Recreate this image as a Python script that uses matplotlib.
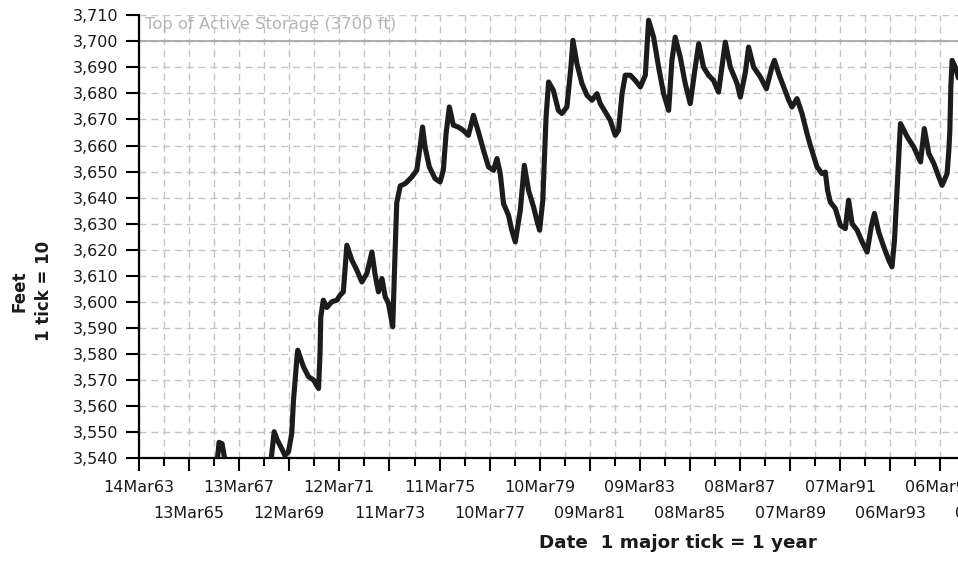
import numpy as np
import matplotlib
matplotlib.use("Agg")
import matplotlib.pyplot as plt
import matplotlib.dates as mdates
from matplotlib.ticker import FuncFormatter, FixedLocator
from datetime import datetime, timedelta

# Reservoir elevation (ft) against decimal year
years = [
    1963.20, 1964.50, 1965.50, 1966.10, 1966.32, 1966.39, 1966.51, 1966.63,
    1966.83, 1967.30, 1967.90, 1968.43, 1968.59, 1968.71, 1968.87, 1969.02,
    1969.16, 1969.29, 1969.36, 1969.49, 1969.53, 1969.76, 1969.96, 1970.16,
    1970.36, 1970.42, 1970.45, 1970.55, 1970.69, 1970.89, 1971.09, 1971.22,
    1971.35, 1971.49, 1971.69, 1971.89, 1972.09, 1972.29, 1972.49, 1972.62,
    1972.75, 1972.89, 1973.02, 1973.15, 1973.32, 1973.42, 1973.48, 1973.62,
    1973.82, 1974.08, 1974.28, 1974.41, 1974.51, 1974.61, 1974.78, 1975.01,
    1975.21, 1975.34, 1975.45, 1975.58, 1975.74, 1975.94, 1976.14, 1976.34,
    1976.54, 1976.74, 1976.94, 1977.14, 1977.34, 1977.48, 1977.61, 1977.74,
    1977.94, 1978.07, 1978.21, 1978.41, 1978.57, 1978.74, 1978.94, 1979.07,
    1979.18, 1979.31, 1979.36, 1979.44, 1979.54, 1979.73, 1979.93, 1980.07,
    1980.27, 1980.43, 1980.51, 1980.67, 1980.87, 1981.07, 1981.27, 1981.47,
    1981.60, 1981.80, 1982.00, 1982.20, 1982.33, 1982.47, 1982.60, 1982.80,
    1983.00, 1983.20, 1983.40, 1983.53, 1983.73, 1983.93, 1984.13, 1984.33,
    1984.46, 1984.59, 1984.79, 1984.99, 1985.19, 1985.39, 1985.53, 1985.72,
    1985.92, 1986.12, 1986.32, 1986.50, 1986.59, 1986.79, 1987.06, 1987.19,
    1987.39, 1987.52, 1987.72, 1987.99, 1988.23, 1988.45, 1988.55, 1988.72,
    1988.92, 1989.12, 1989.25, 1989.45, 1989.65, 1989.85, 1989.98, 1990.25,
    1990.45, 1990.58, 1990.67, 1990.78, 1990.98, 1991.18, 1991.38, 1991.51,
    1991.65, 1991.85, 1992.05, 1992.25, 1992.41, 1992.54, 1992.71, 1992.91,
    1993.11, 1993.24, 1993.34, 1993.44, 1993.55, 1993.58, 1993.85, 1994.11,
    1994.38, 1994.53, 1994.71, 1994.91, 1995.11, 1995.24, 1995.44, 1995.51,
    1995.55, 1995.59, 1995.64, 1995.77, 1995.89,
]
elevation = [
    3420.0, 3490.0, 3520.0, 3530.0, 3539.0, 3546.0, 3545.5, 3539.0,
    3530.0, 3525.0, 3522.0, 3536.0, 3550.1, 3547.0, 3544.0, 3541.0,
    3542.4, 3549.4, 3562.2, 3577.6, 3581.4, 3575.0, 3571.2, 3570.0,
    3566.7, 3580.3, 3594.2, 3600.6, 3597.8, 3600.0, 3600.6, 3602.5,
    3603.8, 3621.7, 3616.0, 3612.1, 3607.6, 3610.9, 3619.1, 3610.2,
    3603.8, 3608.9, 3601.9, 3599.3, 3590.4, 3621.0, 3638.0, 3644.5,
    3645.4, 3647.9, 3650.5, 3659.4, 3667.1, 3659.4, 3651.8, 3647.3,
    3646.0, 3650.5, 3664.6, 3674.8, 3667.8, 3667.1, 3665.8, 3663.9,
    3671.6, 3665.2, 3658.2, 3651.8, 3650.5, 3655.0, 3649.2, 3637.7,
    3633.2, 3627.5, 3623.0, 3635.1, 3652.4, 3642.8, 3636.4, 3631.3,
    3627.5, 3639.0, 3651.8, 3671.0, 3684.4, 3681.2, 3673.5, 3672.3,
    3674.8, 3690.1, 3700.4, 3691.4, 3683.8, 3679.3, 3677.4, 3679.9,
    3676.1, 3672.9, 3669.7, 3663.9, 3665.8, 3679.9, 3687.0, 3687.0,
    3685.0, 3682.5, 3687.0, 3708.1, 3701.6, 3690.1, 3679.9, 3673.5,
    3692.7, 3701.6, 3694.0, 3683.8, 3676.1, 3690.1, 3699.1, 3690.1,
    3687.0, 3685.0, 3680.5, 3693.4, 3699.7, 3690.1, 3683.8, 3678.6,
    3688.0, 3697.8, 3690.1, 3686.3, 3681.8, 3690.1, 3692.7, 3687.6,
    3682.5, 3677.4, 3674.8, 3678.0, 3672.3, 3664.6, 3660.1, 3651.8,
    3649.2, 3649.8, 3642.8, 3638.3, 3635.8, 3629.4, 3628.1, 3639.0,
    3630.0, 3627.5, 3623.0, 3619.1, 3628.7, 3633.9, 3626.8, 3621.1,
    3616.0, 3613.4, 3623.6, 3642.8, 3663.3, 3668.4, 3663.3, 3659.4,
    3653.7, 3666.5, 3656.9, 3653.1, 3647.9, 3644.7, 3649.2, 3658.2,
    3665.8, 3682.5, 3692.7, 3690.1, 3686.0,
]

active_storage_top = 3700
y_ticks = list(range(3540, 3711, 10))
tick_origin = datetime(1963, 3, 14)
n_years_shown = 43.2

TEXT_COLOR = "#1a1a1a"
GRID_COLOR = "#c4c4c4"
GRID_DASH = (0, (5, 3.5))


def year_to_date(yr):
    start = datetime(int(yr), 1, 1)
    end = datetime(int(yr) + 1, 1, 1)
    return start + (end - start) * (yr - int(yr))


def main():
    plt.rcParams["font.family"] = ["DejaVu Sans"]

    fig = plt.figure(figsize=(9.58, 5.63), dpi=100)
    ax = fig.add_axes([0.1451, 0.1865, 1.1294, 0.7863])

    dates = [year_to_date(y) for y in years]
    ax.plot(dates, elevation, color="#1c1c1c", linewidth=3.7,
            solid_joinstyle="round", solid_capstyle="round", zorder=3)

    ax.axhline(active_storage_top, color="#a8a8a8", linewidth=1.3, zorder=2)
    ax.text(0.006, 3709.2, "Top of Active Storage (3700 ft)", color="#b4b4b4",
            fontsize=11.8, ha="left", va="top",
            transform=ax.get_yaxis_transform())

    # ticks every 365 days; labels every 730 days on two staggered rows
    x0 = mdates.date2num(tick_origin)
    top_row = [x0 + 1460 * k for k in range(12)]
    low_row = [x0 + 730 + 1460 * k for k in range(12)]
    in_between = [x0 + 365 + 730 * k for k in range(23)]

    ax.xaxis.set_major_locator(FixedLocator(top_row))
    ax.xaxis.set_minor_locator(FixedLocator(low_row))
    ax.xaxis.set_major_formatter(mdates.DateFormatter("%d%b%y"))
    ax.xaxis.set_minor_formatter(mdates.DateFormatter("%d%b%y"))
    ax.set_xlim(x0, x0 + 365 * n_years_shown)

    ax.tick_params(axis="x", which="major", length=9, width=1.5, pad=7,
                   labelsize=11.5, colors="black", labelcolor=TEXT_COLOR)
    ax.tick_params(axis="x", which="minor", length=9, width=1.5, pad=25.7,
                   labelsize=11.5, colors="black", labelcolor=TEXT_COLOR)

    # short unlabelled ticks for the odd years
    sec = ax.secondary_xaxis("bottom")
    sec.set_xticks(in_between)
    sec.tick_params(length=5.5, width=1.5, colors="black", labelbottom=False)
    sec.spines["bottom"].set_visible(False)

    ax.set_yticks(y_ticks)
    ax.yaxis.set_major_formatter(FuncFormatter(lambda v, p: f"{v:,.0f}"))
    ax.set_ylim(3540, 3710)
    ax.tick_params(axis="y", length=9.5, width=1.5, pad=5.5,
                   labelsize=11.5, colors="black", labelcolor=TEXT_COLOR)

    ax.grid(True, which="both", axis="x", color=GRID_COLOR, linewidth=1.0,
            linestyle=GRID_DASH)
    ax.vlines(in_between, 3540, 3710, colors=GRID_COLOR, linewidth=1.0,
              linestyles=[GRID_DASH], zorder=0.5)
    ax.grid(True, which="major", axis="y", color=GRID_COLOR, linewidth=1.0,
            linestyle=GRID_DASH)
    ax.set_axisbelow(True)

    for side in ("top", "right"):
        ax.spines[side].set_visible(False)
    for side in ("left", "bottom"):
        ax.spines[side].set_linewidth(1.6)
        ax.spines[side].set_color("black")

    fig.text(32 / 958, 1 - 291 / 563, "Feet\n1 tick = 10", rotation=90,
             ha="center", va="center", multialignment="center",
             fontsize=12, fontweight="bold", linespacing=1.5,
             color=TEXT_COLOR)
    fig.text(678 / 958, 15 / 563, "Date  1 major tick = 1 year",
             ha="center", va="baseline", fontsize=13.2, fontweight="bold",
             color=TEXT_COLOR)

    fig.savefig("out.png", dpi=100)


if __name__ == "__main__":
    main()
